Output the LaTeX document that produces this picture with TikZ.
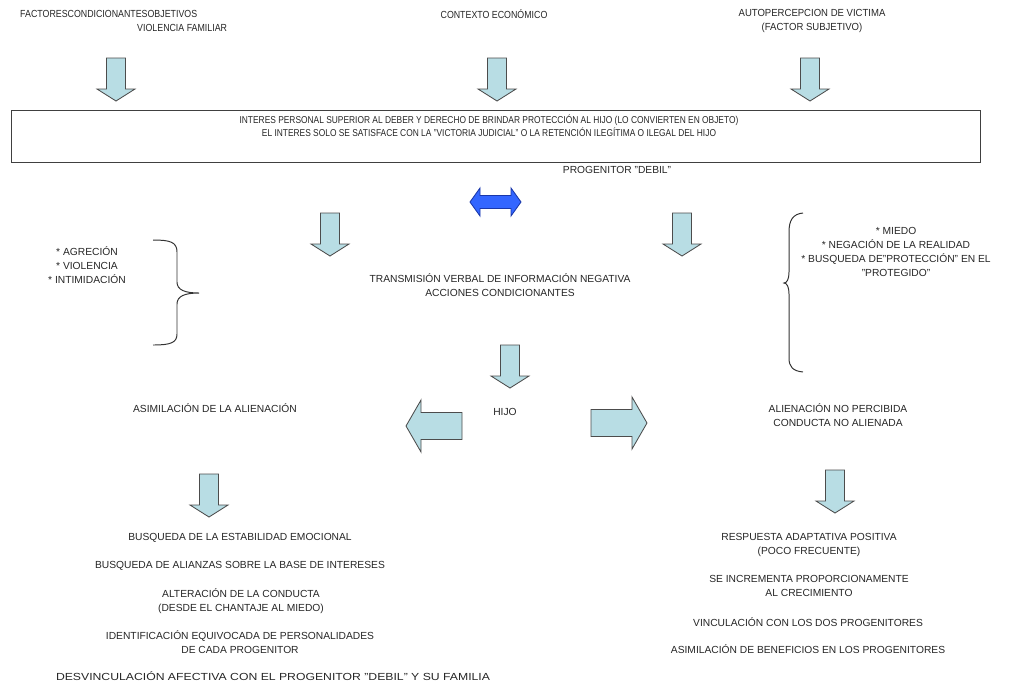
\documentclass[tikz,border=0pt]{standalone}
\usepackage{fontspec}
\setmainfont{Liberation Sans}
\definecolor{celeste}{RGB}{184,221,228}
\definecolor{azulfuerte}{RGB}{51,102,255}
\definecolor{azulborde}{RGB}{25,55,170}
\begin{document}
\begin{tikzpicture}[x=0.025cm,y=-0.025cm,
  txt/.style={font=\fontsize{7.3}{9.9}\selectfont,text=black!85,align=center,inner sep=0pt},
  estrecho/.style={txt,xscale=#1,transform shape},
  bloque/.style={fill=celeste,draw=black!70,line width=0.6pt},
  abajo/.pic={\draw[bloque] (-9.5,0) -- (9.5,0) -- (9.5,31) -- (19,31) -- (0,43) -- (-19,31) -- (-9.5,31) -- cycle;},
  lado/.pic={\draw[bloque] (0,-13.5) -- (41,-13.5) -- (41,-26) -- (56,0) -- (41,26) -- (41,13.5) -- (0,13.5) -- cycle;}]
\useasboundingbox (0,0) rectangle (1010,685);

% factores de entrada
\node[estrecho=0.86,anchor=west] (factores) at (20,14) {FACTORESCONDICIONANTESOBJETIVOS};
\node[estrecho=0.86,anchor=west] (violencia) at (137,28) {VIOLENCIA FAMILIAR};
\node[estrecho=0.86] (contexto) at (494,14) {CONTEXTO ECONÓMICO};
\node[estrecho=0.93] (autop) at (812,21) {AUTOPERCEPCION DE VICTIMA\\(FACTOR SUBJETIVO)};

\pic (f1) at (116,58) {abajo};
\pic (f2) at (497,58) {abajo};
\pic (f3) at (810,58) {abajo};

% interes personal
\draw[line width=0.7pt,black!75] (11,110) rectangle (980,162);
\node[estrecho=0.84,font=\fontsize{7.1}{9.3}\selectfont] (interes) at (489,125.5) {INTERES PERSONAL SUPERIOR AL DEBER Y DERECHO DE BRINDAR PROTECCIÓN AL HIJO (LO CONVIERTEN EN OBJETO)\\EL INTERES SOLO SE SATISFACE CON LA "VICTORIA JUDICIAL" O LA RETENCIÓN ILEGÍTIMA O ILEGAL DEL HIJO};
\node[txt] (progenitor) at (617,170) {PROGENITOR "DEBIL"};

\draw[fill=azulfuerte,draw=azulborde,line width=0.6pt] (470,202) -- (480,188) -- (480,195.5) -- (511,195.5) -- (511,188) -- (521,202) -- (511,216) -- (511,208.5) -- (480,208.5) -- (480,216) -- cycle;

\pic (f4) at (330,213) {abajo};
\pic (f5) at (682,213) {abajo};

% llaves laterales
\node[txt] (agresion) at (87,265) {* AGRECIÓN\\* VIOLENCIA\\* INTIMIDACIÓN};
\draw[line width=0.7pt,black!80] (153,240) .. controls (170,240) and (177,242) .. (177,252) -- (177,282) .. controls (177,290) and (185,293) .. (199,293) .. controls (185,293) and (177,296) .. (177,304) -- (177,334) .. controls (177,343) and (170,345) .. (153,345);

\node[txt] (transmision) at (500,285) {TRANSMISIÓN VERBAL DE INFORMACIÓN NEGATIVA\\ACCIONES CONDICIONANTES};

\draw[line width=0.7pt,black!80] (803,213) .. controls (793,214) and (789,220) .. (789,232) -- (789,272) .. controls (789,279) and (787,283) .. (784,283) .. controls (787,283) and (789,287) .. (789,294) -- (789,358) .. controls (789,367) and (793,371) .. (803,372);
\node[txt] (miedo) at (896,252) {* MIEDO\\* NEGACIÓN DE LA REALIDAD\\* BUSQUEDA DE"PROTECCIÓN" EN EL\\"PROTEGIDO"};

% hijo
\pic (f6) at (510,345) {abajo};
\node[txt] (hijo) at (505,412) {HIJO};
\pic[rotate=180] (izq) at (462,426) {lado};
\pic (der) at (591,423) {lado};

\node[txt] (asimilacion) at (215,408) {ASIMILACIÓN DE LA ALIENACIÓN};
\node[txt] (noperc) at (838,415) {ALIENACIÓN NO PERCIBIDA\\CONDUCTA NO ALIENADA};

\pic (f7) at (209,474) {abajo};
\pic (f8) at (835,470) {abajo};

% consecuencias
\node[txt] (estab) at (240,538) {BUSQUEDA DE LA ESTABILIDAD EMOCIONAL};
\node[txt] (alianzas) at (240,566) {BUSQUEDA DE ALIANZAS SOBRE LA BASE DE INTERESES};
\node[txt] (alteracion) at (241,601) {ALTERACIÓN DE LA CONDUCTA\\(DESDE EL CHANTAJE AL MIEDO)};
\node[txt] (identif) at (240,642) {IDENTIFICACIÓN EQUIVOCADA DE PERSONALIDADES\\DE CADA PROGENITOR};
\node[estrecho=1.19] (desvinc) at (273,676) {DESVINCULACIÓN AFECTIVA CON EL PROGENITOR "DEBIL" Y SU FAMILIA};

\node[txt] (respuesta) at (809,545) {RESPUESTA ADAPTATIVA POSITIVA\\(POCO FRECUENTE)};
\node[txt] (incrementa) at (809,586) {SE INCREMENTA PROPORCIONAMENTE\\AL CRECIMIENTO};
\node[txt] (vinculacion) at (808,622) {VINCULACIÓN CON LOS DOS PROGENITORES};
\node[txt] (beneficios) at (808,649) {ASIMILACIÓN DE BENEFICIOS EN LOS PROGENITORES};
\end{tikzpicture}
\end{document}
